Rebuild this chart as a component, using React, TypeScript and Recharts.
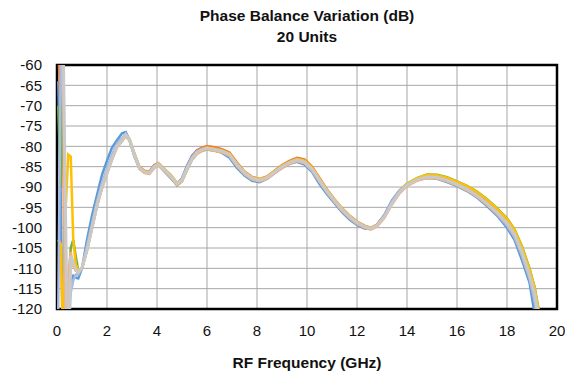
import { LineChart, Line, XAxis, YAxis, CartesianGrid, ReferenceArea } from "recharts";

// frequency points (GHz)
const freqGHz = [
  0.05, 0.15, 0.25, 0.35, 0.45, 0.55, 0.65, 0.75, 0.85, 1.0,
  1.2, 1.4, 1.6, 1.8, 2.0, 2.2, 2.4, 2.6,
  2.75, 2.9, 3.1, 3.3, 3.5, 3.7, 3.9, 4.05,
  4.3, 4.55, 4.8, 5.0, 5.2, 5.4, 5.6, 5.8, 6.0,
  6.3, 6.6, 6.9, 7.2, 7.5, 7.8, 8.1, 8.4, 8.7, 9.0,
  9.3, 9.6, 9.9, 10.2, 10.5, 10.8, 11.1, 11.4, 11.7, 12.0,
  12.3, 12.55, 12.8, 13.1, 13.4, 13.7, 14.0,
  14.4, 14.8, 15.2, 15.6, 16.0, 16.4, 16.8, 17.2, 17.6, 18.0,
  18.3, 18.6, 18.9, 19.1, 19.3,
];

const unitBlue = [
  -64, -92, -140, -130, -117, -113, -111.8, -112.3, -112.5, -110,
  -103, -97, -92, -87, -83.5, -80.3, -78.5, -76.8,
  -76.5, -78.5, -82.5, -85.5, -86.3, -86.2, -84.6, -84.5,
  -86.2, -87.8, -89.4, -87.8, -84.8, -82.3, -81, -80.5, -80.5,
  -81, -81.6, -82.8, -85.3, -87.2, -88.5, -88.8, -88, -86.6, -85.3,
  -84.3, -83.8, -84.5, -86.3, -89.3, -91.8, -94, -96.2, -98, -99.3,
  -100.2, -100.3, -99.2, -96.8, -93.3, -90.8, -89.3,
  -88.3, -87.8, -88, -88.8, -89.8, -91, -92.6, -94.7, -97, -100,
  -103, -108, -113.5, -121, -130,
];

const unitOrange = [
  -55, -72, -81, -135, -112, -108, -109, -110.5, -111, -110,
  -105, -99.5, -94, -89.5, -86, -82.5, -79.8, -78.2,
  -77, -78.2, -81.8, -85, -86, -86.2, -84.6, -84.1,
  -85.6, -87, -89, -88, -85.2, -82.6, -81, -80.3, -79.9,
  -80.2, -80.7, -81.5, -84, -86.2, -87.5, -88, -87.4, -86, -84.6,
  -83.6, -82.8, -83.2, -85, -87.8, -90.6, -93, -95.2, -97, -98.5,
  -99.5, -100, -99.3, -97, -93.8, -91, -89.3,
  -88, -87.3, -87.4, -88.1, -89.1, -90.3, -91.8, -93.8, -96, -98.5,
  -101.2, -105.7, -111, -115.5, -122.5,
];

const unitGreen = [
  -70, -90, -60, -130, -115, -105, -103, -107, -110.5, -110,
  -105.5, -100, -94.6, -90.2, -86.6, -83.1, -80.1, -78.6,
  -77.4, -78.5, -82.2, -85.4, -86.4, -86.6, -85.1, -84.6,
  -86, -87.6, -89.6, -88.6, -85.8, -83.3, -81.8, -81.1, -80.8,
  -81.1, -81.4, -82.2, -84.6, -86.5, -87.7, -88.2, -87.6, -86.2, -84.9,
  -83.9, -83.2, -83.7, -85.4, -88.2, -90.9, -93.2, -95.4, -97.2, -98.6,
  -99.6, -100.1, -99.4, -97.2, -93.9, -91.1, -89.2,
  -87.8, -86.9, -87, -87.6, -88.6, -89.7, -91.1, -93, -95.2, -97.7,
  -100.4, -104.6, -110, -114.5, -121.3,
];

const unitGold = [
  -103, -104, -130, -95, -82, -82.5, -103, -109, -110.5, -110,
  -105.3, -99.8, -94.3, -89.8, -86.3, -82.8, -79.9, -78.4,
  -77.1, -78.2, -81.9, -85.2, -86.1, -86.3, -84.8, -84.2,
  -85.6, -87.1, -89, -88.1, -85.4, -82.9, -81.4, -80.7, -80.3,
  -80.6, -81, -81.8, -84.3, -86.3, -87.6, -88.1, -87.5, -86.1, -84.8,
  -83.8, -83.1, -83.5, -85.2, -88, -90.8, -93.1, -95.3, -97.1, -98.6,
  -99.6, -100.1, -99.3, -97.1, -93.7, -91, -89.2,
  -87.8, -87, -87.1, -87.7, -88.7, -89.8, -91.2, -93.1, -95.3, -97.8,
  -100.5, -104.8, -110.2, -114.6, -121.5,
];

const unitLavender = [
  -120, -60, -50, -135, -125, -116, -113, -111.5, -111.5, -110,
  -104.5, -99, -93.5, -89, -85.5, -82, -79.3, -78,
  -76.9, -78.4, -82.2, -85.4, -86.3, -86.4, -84.8, -84.4,
  -86, -87.5, -89.3, -88, -85.2, -82.7, -81.3, -80.7, -80.5,
  -80.9, -81.4, -82.4, -84.9, -86.9, -88.2, -88.6, -87.9, -86.5, -85.2,
  -84.2, -83.6, -84.2, -86, -88.8, -91.4, -93.7, -95.9, -97.7, -99.1,
  -100, -100.3, -99.4, -97, -93.6, -91, -89.4,
  -88.3, -87.7, -87.8, -88.6, -89.6, -90.8, -92.4, -94.4, -96.7, -99.5,
  -102.3, -107, -112.5, -118, -126,
];

const unitPink = [
  -50, -55, -62, -135, -112, -106, -109.5, -110.5, -111, -110,
  -105.7, -100.3, -94.8, -90.3, -86.8, -83.3, -80.3, -78.8,
  -77.5, -78.6, -82.3, -85.6, -86.6, -86.8, -85.3, -84.7,
  -86.1, -87.6, -89.5, -88.6, -85.8, -83.3, -81.8, -81.1, -80.7,
  -81.1, -81.5, -82.3, -84.8, -86.8, -88.1, -88.6, -88, -86.6, -85.3,
  -84.3, -83.6, -84.1, -85.8, -88.6, -91.3, -93.6, -95.8, -97.6, -99,
  -100, -100.5, -99.8, -97.6, -94.3, -91.6, -89.8,
  -88.5, -87.8, -87.9, -88.6, -89.6, -90.8, -92.3, -94.3, -96.5, -99.1,
  -101.8, -106.3, -111.8, -116.4, -123.5,
];

const unitGray = [
  -45, -50, -56, -100, -140, -107, -108.5, -110.3, -111, -109.8,
  -105.5, -100, -94.5, -90, -86.5, -83, -80, -78.5,
  -77.2, -78.3, -82, -85.3, -86.3, -86.5, -85, -84.4,
  -85.8, -87.3, -89.2, -88.3, -85.5, -83, -81.5, -80.8, -80.4,
  -80.8, -81.2, -82, -84.5, -86.5, -87.8, -88.3, -87.7, -86.3, -85,
  -84, -83.3, -83.8, -85.5, -88.3, -91, -93.3, -95.5, -97.3, -98.7,
  -99.7, -100.2, -99.5, -97.3, -94, -91.3, -89.5,
  -88.2, -87.5, -87.6, -88.3, -89.3, -90.5, -92, -94, -96.2, -98.8,
  -101.5, -106, -111.5, -116, -123,
];

const xTicks = [0, 2, 4, 6, 8, 10, 12, 14, 16, 18, 20];
const yTicks = [-120, -115, -110, -105, -100, -95, -90, -85, -80, -75, -70, -65, -60];

// drawn bottom to top
const series = [
  { key: "blue", values: unitBlue, color: "#5B9BD5" },
  { key: "orange", values: unitOrange, color: "#ED7D31" },
  { key: "green", values: unitGreen, color: "#70AD47" },
  { key: "gold", values: unitGold, color: "#FFC000" },
  { key: "lavender", values: unitLavender, color: "#A9B9E3" },
  { key: "pink", values: unitPink, color: "#F4B183" },
  { key: "gray", values: unitGray, color: "#C9C9C9" },
];

const data = freqGHz.map((f, i) => {
  const row: Record<string, number> = { f };
  series.forEach((s) => { row[s.key] = s.values[i]; });
  return row;
});

const font = "'Liberation Sans', Arial, sans-serif";

export default function App() {
  return (
    <div style={wrap}>
      <div style={{ ...title, top: 6 }}>Phase Balance Variation (dB)</div>
      <div style={{ ...title, top: 27 }}>20 Units</div>
      <LineChart width={565} height={377} data={data} margin={{ top: 65, right: 8, bottom: 0, left: 8 }}>
        <CartesianGrid stroke="#a6a6a6" strokeWidth={1} />
        <XAxis
          type="number" dataKey="f" domain={[0, 20]} ticks={xTicks} interval={0} height={68}
          tickLine={false} axisLine={false} tickMargin={10}
          tick={{ fontSize: 15, fill: "#111", fontFamily: font }}
        />
        <YAxis
          type="number" domain={[-120, -60]} ticks={yTicks} interval={0} allowDataOverflow width={49}
          tickLine={false} axisLine={false} tickMargin={9}
          tick={{ fontSize: 15, fill: "#111", fontFamily: font }}
        />
        {series.map((s) => (
          <Line
            key={s.key} type="linear" dataKey={s.key} stroke={s.color} strokeWidth={s.key === "gray" ? 3 : 2.5}
            dot={false} isAnimationActive={false}
          />
        ))}
        <ReferenceArea x1={0} x2={20} y1={-120} y2={-60} fill="none" stroke="#000" strokeWidth={2.5} />
      </LineChart>
      <div style={{ ...title, top: 353 }}>RF Frequency (GHz)</div>
    </div>
  );
}

const wrap: React.CSSProperties = { position: "absolute", left: 0, top: 0, width: 565, height: 377, background: "#fff" };
const title: React.CSSProperties = {
  position: "absolute", left: 57, width: 500, textAlign: "center", fontFamily: font,
  fontWeight: 700, fontSize: 15.5, lineHeight: "20px", color: "#111",
};
